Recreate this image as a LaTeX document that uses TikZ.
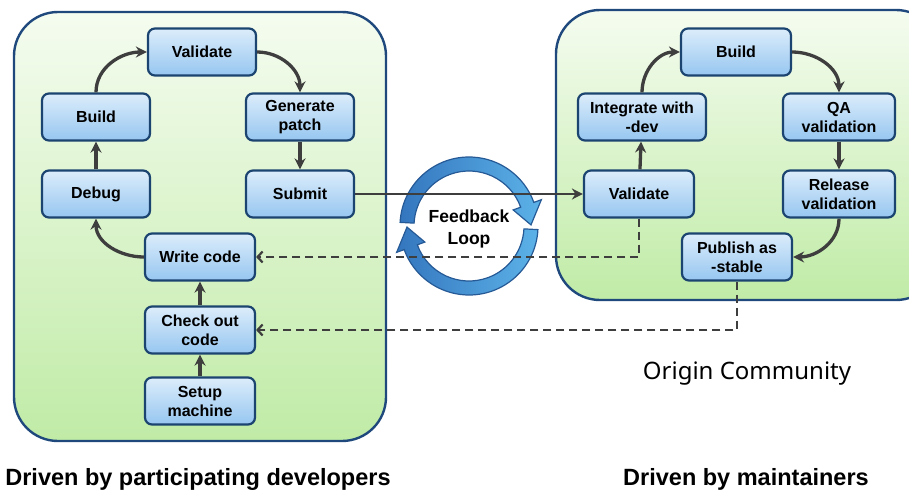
\documentclass[tikz,border=0pt]{standalone}
\usepackage{fontspec}
\setmainfont{Liberation Sans}
\newfontfamily\captionfont{Noto Sans}
\usetikzlibrary{arrows.meta}

\definecolor{panelborder}{RGB}{31,73,125}
\definecolor{paneltop}{RGB}{245,252,240}
\definecolor{panelbottom}{RGB}{192,235,166}
\definecolor{boxtop}{RGB}{220,237,251}
\definecolor{boxbottom}{RGB}{150,198,240}
\definecolor{boxborder}{RGB}{28,68,112}
\definecolor{flowgray}{RGB}{62,62,62}
\definecolor{loopdark}{RGB}{52,118,190}
\definecolor{looplight}{RGB}{92,178,232}
\definecolor{loopborder}{RGB}{38,90,150}

\tikzset{
	panel/.style={draw=panelborder, line width=2.4pt, rounded corners=44pt, top color=paneltop, bottom color=panelbottom},
	task/.style={draw=boxborder, line width=2.2pt, rounded corners=7pt, top color=boxtop, bottom color=boxbottom,
		minimum width=108pt, minimum height=47pt, inner sep=2pt, align=center, font=\fontsize{16}{19}\selectfont\bfseries},
	flow/.style={draw=flowgray, line width=3.3pt, -{Stealth[length=11pt,width=11pt]}},
	returnline/.style={draw=flowgray, line width=2.2pt, dash pattern=on 8pt off 5pt, -{Straight Barb[length=5pt,width=11pt]}},
}

\begin{document}
\begin{tikzpicture}[x=1pt, y=1pt]
	\useasboundingbox (0,0) rectangle (909,491);
	\clip (0,0) rectangle (909,491);

	% the two community panels
	\draw[panel] (14,50) rectangle (386,479);
	\draw[panel] (556,191) rectangle (940,481);

	% feedback ring
	\def\rout{69}			% outer radius of the ring
	\def\rin{55}			% inner radius of the ring
	\def\rmid{62}			% radius where the tip sits
	\def\wout{77}			% outer wing of the head
	\def\win{47}			% inner wing of the head
	\def\abase{20}			% angle where the head starts
	\def\atip{1}			% angle of the tip
	\foreach \rot in {0,180}{% second arrow is the first one turned half way round
		\begin{scope}[shift={(469,265)}, rotate=\rot]
			\draw[loopborder, line width=1.2pt, left color=loopdark, right color=looplight]
				(177:\rout) arc[start angle=177, end angle=\abase, radius=\rout]
				-- (\abase:\wout) -- (\atip:\rmid) -- (\abase:\win)
				-- (\abase:\rin) arc[start angle=\abase, end angle=177, radius=\rin] -- cycle;
		\end{scope}
	}
	\node[font=\fontsize{17.5}{22}\selectfont\bfseries, align=center] (loop) at (469,262) {Feedback\\Loop};

	% developer side
	\node[task] (validate) at (202,439) {Validate};
	\node[task] (generate) at (300,374) {Generate\\patch};
	\node[task] (submit) at (300,297) {Submit};
	\node[task] (build) at (96,374) {Build};
	\node[task] (debug) at (96,297) {Debug};
	\node[task, minimum width=110pt] (write) at (200,234) {Write code};
	\node[task, minimum width=110pt] (checkout) at (200,161) {Check out\\code};
	\node[task, minimum width=110pt] (setup) at (200,90) {Setup\\machine};

	% maintainer side
	\node[task, minimum width=110pt] (rbuild) at (736,439) {Build};
	\node[task, minimum width=128pt] (integrate) at (642,374) {Integrate with\\-dev};
	\node[task, minimum width=112pt] (qa) at (839,374) {QA\\validation};
	\node[task, minimum width=110pt] (rvalidate) at (639,297) {Validate};
	\node[task, minimum width=112pt] (release) at (839,297) {Release\\validation};
	\node[task, minimum width=110pt] (publish) at (737,234) {Publish as\\-stable};

	% captions
	\node[font=\captionfont\fontsize{24}{28}\selectfont] (origin) at (747,117) {Origin Community};
	\node[font=\fontsize{23.5}{27}\selectfont\bfseries] (devs) at (198,12) {Driven by participating developers};
	\node[font=\fontsize{23.5}{27}\selectfont\bfseries] (maint) at (746,12) {Driven by maintainers};

	% straight steps
	\foreach \from/\to in {debug/build, generate/submit, checkout/write, setup/checkout, rvalidate/integrate, qa/release}
		\draw[flow] (\from) -- (\to);

	% bent steps
	\draw[flow] (build.north) to[out=90, in=180] (validate.west);
	\draw[flow] (validate.east) to[out=0, in=90] (generate.north);
	\draw[flow] (write.west) to[out=180, in=-90] (debug.south);
	\draw[flow] (integrate.north) to[out=90, in=180] (rbuild.west);
	\draw[flow] (rbuild.east) to[out=0, in=90] (qa.north);
	\draw[flow] (release.south) to[out=-90, in=0] (publish.east);

	% hand over and the way back
	\draw[flow, line width=2.4pt] (submit) -- (rvalidate);
	\draw[returnline] (rvalidate.south) |- (write.east);
	\draw[returnline] (publish.south) |- (checkout.east);

\end{tikzpicture}
\end{document}
